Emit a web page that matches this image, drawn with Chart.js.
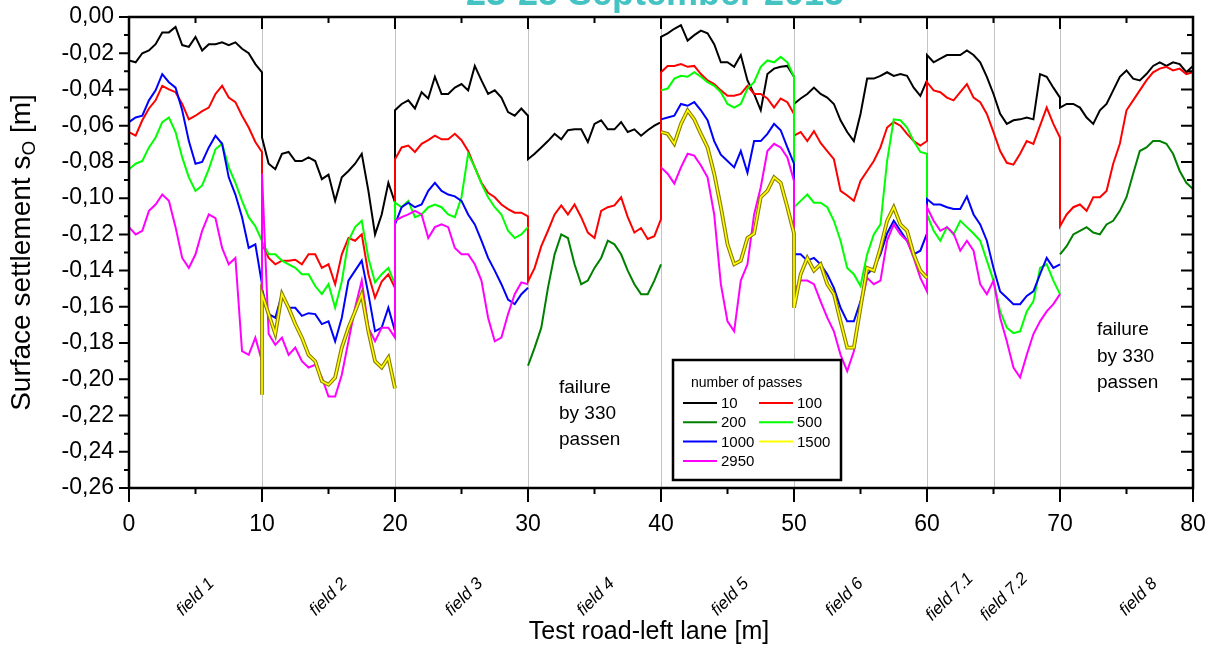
<!DOCTYPE html>
<html><head><meta charset="utf-8">
<script src="https://cdn.jsdelivr.net/npm/chart.js@4.4.1/dist/chart.umd.min.js"></script>
<style>html,body{margin:0;padding:0;background:#fff;}#wrap{width:1213px;height:650px;position:relative;}</style>
</head><body><div id="wrap"><canvas id="c"></canvas></div>
<script>
// ---- data ----
const chartTitle = '23-25 September 2015';
const seriesLabels = ['10','100','200','500','1000','1500','2950'];
const seriesColors = ['#000000','#ff0000','#008000','#00ff00','#0000ff','#ffff00','#ff00ff'];
// 8 blocks of 10 m; each block sampled every 0.5 m from its start to its end (edges repeated -> vertical jumps)
const blockStarts = [0,10,20,30,40,50,60,70];
const xTicks = [0,10,20,30,40,50,60,70,80];
const yTicks = [0,-0.02,-0.04,-0.06,-0.08,-0.10,-0.12,-0.14,-0.16,-0.18,-0.20,-0.22,-0.24,-0.26];
const fieldLines = [10,20,30,40,50,60,65,70];
const fieldNames = ['field 1','field 2','field 3','field 4','field 5','field 6','field 7.1','field 7.2','field 8'];
const fieldPos = [5,15,25.2,35.1,45.2,53.8,61.7,65.8,75.9];
const noteText = ['failure','by 330','passen'];

const s10 = [
 [-0.024,-0.025,-0.020,-0.0185,-0.015,-0.0085,-0.0085,-0.0055,-0.0155,-0.0165,-0.011,-0.0185,-0.015,-0.015,-0.014,-0.0155,-0.014,-0.0175,-0.020,-0.026,-0.0305],
 [-0.0665,-0.081,-0.084,-0.0755,-0.0745,-0.0795,-0.0795,-0.0775,-0.0795,-0.0895,-0.087,-0.1015,-0.0885,-0.085,-0.081,-0.0755,-0.096,-0.120,-0.109,-0.0915,-0.1025],
 [-0.0515,-0.048,-0.046,-0.0505,-0.0415,-0.045,-0.033,-0.0425,-0.0425,-0.039,-0.037,-0.0405,-0.027,-0.035,-0.0425,-0.0405,-0.0445,-0.0525,-0.0545,-0.0505,-0.0545],
 [-0.0785,-0.0755,-0.072,-0.0685,-0.0645,-0.0675,-0.0625,-0.062,-0.062,-0.069,-0.059,-0.057,-0.062,-0.062,-0.058,-0.0635,-0.062,-0.0655,-0.0625,-0.060,-0.058],
 [-0.011,-0.009,-0.0065,-0.0045,-0.013,-0.010,-0.0075,-0.009,-0.015,-0.025,-0.025,-0.0275,-0.021,-0.035,-0.0425,-0.0515,-0.0315,-0.0285,-0.0275,-0.027,-0.033],
 [-0.048,-0.045,-0.0425,-0.039,-0.0425,-0.0445,-0.048,-0.057,-0.0635,-0.0685,-0.0535,-0.034,-0.034,-0.0325,-0.0305,-0.0325,-0.0315,-0.0325,-0.039,-0.0435,-0.035],
 [-0.021,-0.025,-0.023,-0.021,-0.021,-0.021,-0.0185,-0.021,-0.025,-0.033,-0.0425,-0.0535,-0.059,-0.057,-0.0565,-0.0555,-0.0565,-0.0315,-0.033,-0.039,-0.0445],
 [-0.050,-0.048,-0.048,-0.050,-0.0555,-0.059,-0.0515,-0.048,-0.0405,-0.033,-0.0295,-0.034,-0.035,-0.0315,-0.027,-0.025,-0.027,-0.025,-0.026,-0.0305,-0.027]
];
const s100 = [
 [-0.0635,-0.0655,-0.057,-0.0505,-0.046,-0.038,-0.040,-0.0415,-0.048,-0.0565,-0.0545,-0.052,-0.050,-0.0425,-0.038,-0.0445,-0.047,-0.0545,-0.061,-0.069,-0.0745],
 [-0.125,-0.133,-0.1365,-0.1345,-0.1345,-0.134,-0.1365,-0.131,-0.131,-0.1385,-0.1365,-0.1475,-0.131,-0.122,-0.1235,-0.120,-0.142,-0.155,-0.146,-0.142,-0.1495],
 [-0.0785,-0.072,-0.071,-0.0745,-0.070,-0.068,-0.0655,-0.0675,-0.0675,-0.0645,-0.068,-0.074,-0.083,-0.0915,-0.097,-0.0995,-0.1035,-0.106,-0.108,-0.108,-0.110],
 [-0.146,-0.1385,-0.1265,-0.118,-0.109,-0.104,-0.109,-0.1035,-0.1105,-0.119,-0.122,-0.107,-0.105,-0.104,-0.0995,-0.1105,-0.119,-0.1165,-0.1225,-0.121,-0.1115],
 [-0.0305,-0.027,-0.027,-0.026,-0.0275,-0.027,-0.0315,-0.035,-0.037,-0.0405,-0.0435,-0.0435,-0.0425,-0.038,-0.0425,-0.0425,-0.045,-0.050,-0.045,-0.047,-0.0535],
 [-0.0655,-0.0635,-0.0685,-0.063,-0.0695,-0.074,-0.0785,-0.096,-0.0985,-0.1015,-0.0905,-0.085,-0.0795,-0.072,-0.061,-0.058,-0.060,-0.0645,-0.0685,-0.071,-0.0685],
 [-0.036,-0.0405,-0.0415,-0.0445,-0.046,-0.0415,-0.037,-0.0445,-0.047,-0.0535,-0.0635,-0.074,-0.0805,-0.0815,-0.0755,-0.0685,-0.070,-0.060,-0.050,-0.059,-0.0665],
 [-0.1155,-0.109,-0.105,-0.1035,-0.107,-0.0995,-0.0995,-0.096,-0.081,-0.070,-0.0515,-0.046,-0.0405,-0.035,-0.0305,-0.0285,-0.0275,-0.0295,-0.0285,-0.0315,-0.0305]
];
const s200 = [
 null, null, null,
 [-0.1925,-0.1825,-0.1715,-0.1495,-0.131,-0.120,-0.122,-0.1365,-0.1475,-0.1455,-0.1385,-0.133,-0.1235,-0.1255,-0.131,-0.140,-0.1475,-0.153,-0.153,-0.1455,-0.1365],
 null, null, null,
 [-0.131,-0.1265,-0.120,-0.118,-0.116,-0.119,-0.120,-0.1145,-0.1125,-0.107,-0.0995,-0.0865,-0.074,-0.072,-0.0685,-0.0685,-0.070,-0.0755,-0.085,-0.0915,-0.095]
];
const s500 = [
 [-0.084,-0.081,-0.0795,-0.072,-0.0665,-0.058,-0.0555,-0.0635,-0.0775,-0.0885,-0.096,-0.093,-0.084,-0.073,-0.070,-0.083,-0.0915,-0.1015,-0.1105,-0.1155,-0.1235],
 [-0.124,-0.131,-0.131,-0.1345,-0.1365,-0.1385,-0.142,-0.142,-0.1485,-0.153,-0.1475,-0.1605,-0.146,-0.1235,-0.116,-0.1125,-0.133,-0.1465,-0.142,-0.1385,-0.1475],
 [-0.1025,-0.105,-0.1015,-0.1105,-0.109,-0.105,-0.1035,-0.105,-0.109,-0.1105,-0.0995,-0.0755,-0.083,-0.092,-0.0995,-0.105,-0.109,-0.118,-0.122,-0.120,-0.116],
 null,
 [-0.0405,-0.0395,-0.034,-0.0325,-0.033,-0.0305,-0.033,-0.036,-0.038,-0.0415,-0.048,-0.050,-0.048,-0.0395,-0.036,-0.0275,-0.024,-0.025,-0.022,-0.025,-0.033],
 [-0.105,-0.1015,-0.098,-0.1025,-0.1025,-0.105,-0.1125,-0.1235,-0.1385,-0.142,-0.1485,-0.131,-0.120,-0.1145,-0.0795,-0.0565,-0.057,-0.061,-0.0685,-0.0745,-0.0755],
 [-0.109,-0.118,-0.1235,-0.116,-0.120,-0.1125,-0.116,-0.1195,-0.1235,-0.1345,-0.1455,-0.1625,-0.1715,-0.1745,-0.1735,-0.1625,-0.157,-0.1385,-0.1365,-0.1455,-0.153],
 null
];
const s1000 = [
 [-0.058,-0.0555,-0.0545,-0.046,-0.0405,-0.0315,-0.036,-0.039,-0.0515,-0.0685,-0.081,-0.080,-0.072,-0.0655,-0.070,-0.0885,-0.098,-0.1105,-0.1275,-0.1255,-0.1475],
 [-0.150,-0.164,-0.166,-0.153,-0.1605,-0.1605,-0.165,-0.1635,-0.164,-0.1695,-0.168,-0.179,-0.166,-0.1455,-0.140,-0.1345,-0.153,-0.1735,-0.1715,-0.1605,-0.1735],
 [-0.1145,-0.105,-0.1025,-0.105,-0.1035,-0.096,-0.0915,-0.096,-0.098,-0.099,-0.1015,-0.109,-0.1145,-0.1235,-0.133,-0.140,-0.1475,-0.156,-0.1585,-0.153,-0.1495],
 null,
 [-0.0565,-0.0555,-0.0545,-0.048,-0.049,-0.047,-0.0515,-0.057,-0.0685,-0.076,-0.0795,-0.083,-0.074,-0.086,-0.0685,-0.0685,-0.0645,-0.059,-0.0625,-0.072,-0.081],
 [-0.131,-0.131,-0.1345,-0.133,-0.1365,-0.142,-0.1495,-0.1605,-0.168,-0.168,-0.157,-0.142,-0.1385,-0.131,-0.1195,-0.1125,-0.118,-0.1235,-0.131,-0.129,-0.1195],
 [-0.1005,-0.1035,-0.1035,-0.105,-0.106,-0.106,-0.099,-0.109,-0.1145,-0.1235,-0.1385,-0.1515,-0.155,-0.1585,-0.1585,-0.154,-0.1515,-0.142,-0.133,-0.1385,-0.1365],
 null
];
const s1500 = [
 [null,null,null,null,null,null,null,null,null,null,null,null,null,null,null,null,null,null,null,null,-0.2085],
 [-0.153,-0.164,-0.175,-0.153,-0.1605,-0.1695,-0.177,-0.1865,-0.190,-0.201,-0.203,-0.199,-0.1825,-0.1715,-0.1625,-0.153,-0.1735,-0.190,-0.1935,-0.188,-0.205],
 null, null,
 [-0.0635,-0.0645,-0.070,-0.059,-0.0515,-0.0565,-0.0645,-0.072,-0.0865,-0.105,-0.1255,-0.1365,-0.1345,-0.122,-0.1195,-0.0995,-0.096,-0.0885,-0.0915,-0.105,-0.1195],
 [-0.1605,-0.142,-0.133,-0.140,-0.1365,-0.1475,-0.153,-0.168,-0.1825,-0.1825,-0.1605,-0.1385,-0.140,-0.1275,-0.1125,-0.105,-0.1145,-0.118,-0.131,-0.140,-0.144],
 null, null
];
const s2950 = [
 [-0.116,-0.120,-0.118,-0.107,-0.1035,-0.098,-0.1015,-0.116,-0.133,-0.1385,-0.131,-0.118,-0.109,-0.111,-0.1275,-0.1365,-0.133,-0.1845,-0.1865,-0.177,-0.190],
 [-0.0865,-0.175,-0.181,-0.177,-0.1865,-0.1825,-0.190,-0.1935,-0.192,-0.199,-0.2095,-0.2095,-0.1975,-0.179,-0.1605,-0.1455,-0.1715,-0.179,-0.1715,-0.1715,-0.177],
 [-0.1125,-0.1105,-0.109,-0.107,-0.109,-0.122,-0.116,-0.1145,-0.116,-0.1275,-0.131,-0.131,-0.1365,-0.1455,-0.166,-0.179,-0.177,-0.164,-0.153,-0.1465,-0.1475],
 null,
 [-0.083,-0.0865,-0.092,-0.083,-0.0755,-0.0765,-0.082,-0.0885,-0.109,-0.1475,-0.168,-0.1735,-0.1455,-0.1365,-0.109,-0.094,-0.074,-0.070,-0.072,-0.0775,-0.0905],
 [-0.1515,-0.1455,-0.1455,-0.1475,-0.157,-0.166,-0.1735,-0.1865,-0.1955,-0.1845,-0.1605,-0.144,-0.1475,-0.1455,-0.1235,-0.1145,-0.120,-0.1235,-0.133,-0.144,-0.1515],
 [-0.105,-0.1125,-0.118,-0.116,-0.1195,-0.129,-0.1235,-0.129,-0.1475,-0.153,-0.1455,-0.166,-0.179,-0.1935,-0.199,-0.1865,-0.175,-0.168,-0.1625,-0.1585,-0.153],
 null
];
const seriesValues = [s10, s100, s200, s500, s1000, s1500, s2950];

// ---- build ----
const STEP = 0.5, PER_BLOCK = 21;
function toPoints(blocks){
  const pts = [];
  blocks.forEach((blk, b) => {
    for (let i = 0; i < PER_BLOCK; i++) pts.push({x: blockStarts[b] + i*STEP, y: blk ? blk[i] : null});
  });
  return pts;
}
const FONT = '"Liberation Sans", Arial, sans-serif';
const drawOrder = [8,7,6,5,4,1,3];
const datasets = seriesValues.map((v, k) => ({
  label: seriesLabels[k], data: toPoints(v), borderColor: seriesColors[k],
  borderWidth: k === 5 ? 1.6 : 2, pointRadius: 0, tension: 0, spanGaps: false, order: drawOrder[k]
}));
// dark edge under the yellow line
datasets.push({label: '', data: toPoints(s1500), borderColor: '#8a7d00', borderWidth: 3.8, pointRadius: 0, tension: 0, spanGaps: false, order: 2});

function fmt(v){ if (Math.abs(v) < 1e-9) v = 0; return v.toFixed(2).replace('.', ','); }

const deco = {
  id: 'deco',
  beforeDatasetsDraw(chart){
    const {ctx, chartArea: a, scales: {x}} = chart;
    ctx.save(); ctx.strokeStyle = '#c4c4c4'; ctx.lineWidth = 1;
    fieldLines.forEach(v => { const p = Math.round(x.getPixelForValue(v)) + 0.5; ctx.beginPath(); ctx.moveTo(p, a.top); ctx.lineTo(p, a.bottom); ctx.stroke(); });
    ctx.restore();
  },
  afterDraw(chart){
    const {ctx, chartArea: a, scales: {x, y}} = chart;
    ctx.save();
    // frame
    ctx.strokeStyle = '#000'; ctx.lineWidth = 2.5;
    ctx.strokeRect(a.left, a.top, a.right - a.left, a.bottom - a.top);
    ctx.lineWidth = 2;
    // y ticks
    for (let i = 0; i < yTicks.length; i++){
      const p = y.getPixelForValue(yTicks[i]);
      ctx.beginPath(); ctx.moveTo(a.left - 10, p); ctx.lineTo(a.left, p); ctx.moveTo(a.right - 12, p); ctx.lineTo(a.right, p); ctx.stroke();
      if (i < yTicks.length - 1){
        const m = y.getPixelForValue((yTicks[i] + yTicks[i+1]) / 2);
        ctx.beginPath(); ctx.moveTo(a.left - 5, m); ctx.lineTo(a.left, m); ctx.moveTo(a.right - 6, m); ctx.lineTo(a.right, m); ctx.stroke();
      }
    }
    // x ticks
    for (let i = 0; i < xTicks.length; i++){
      const p = x.getPixelForValue(xTicks[i]);
      ctx.beginPath(); ctx.moveTo(p, a.bottom); ctx.lineTo(p, a.bottom + 14); ctx.moveTo(p, a.top); ctx.lineTo(p, a.top + 12); ctx.stroke();
      if (i < xTicks.length - 1){
        const m = x.getPixelForValue((xTicks[i] + xTicks[i+1]) / 2);
        ctx.beginPath(); ctx.moveTo(m, a.bottom); ctx.lineTo(m, a.bottom + 6); ctx.moveTo(m, a.top); ctx.lineTo(m, a.top + 6); ctx.stroke();
      }
    }
    // title (clipped at the top edge)
    ctx.fillStyle = '#45c3c3'; ctx.font = 'bold 36px ' + FONT; ctx.textAlign = 'center'; ctx.textBaseline = 'alphabetic';
    ctx.fillText(chartTitle, 655, 5);
    // axis titles
    ctx.fillStyle = '#000'; ctx.font = '25px ' + FONT; ctx.textAlign = 'center'; ctx.textBaseline = 'middle';
    ctx.fillText('Test road-left lane [m]', 649, 632);
    ctx.save();
    ctx.translate(21, (a.top + a.bottom) / 2); ctx.rotate(-Math.PI / 2);
    const p1 = 'Surface settlement s', p2 = 'O', p3 = ' [m]';
    ctx.font = '28px ' + FONT; const w1 = ctx.measureText(p1).width, w3 = ctx.measureText(p3).width;
    ctx.font = '19px ' + FONT; const w2 = ctx.measureText(p2).width;
    let sx = -(w1 + w2 + w3) / 2;
    ctx.textAlign = 'left'; ctx.textBaseline = 'alphabetic';
    ctx.font = '28px ' + FONT; ctx.fillText(p1, sx, 9); sx += w1;
    ctx.font = '19px ' + FONT; ctx.fillText(p2, sx, 14); sx += w2;
    ctx.font = '28px ' + FONT; ctx.fillText(p3, sx, 9);
    ctx.restore();
    // field labels
    ctx.font = 'italic 17px ' + FONT; ctx.textAlign = 'center'; ctx.textBaseline = 'middle';
    fieldNames.forEach((t, i) => {
      ctx.save(); ctx.translate(x.getPixelForValue(fieldPos[i]), 597); ctx.rotate(-Math.PI / 4); ctx.fillText(t, 0, 0); ctx.restore();
    });
    // notes
    ctx.font = '19px ' + FONT; ctx.textAlign = 'left'; ctx.textBaseline = 'middle';
    noteText.forEach((t, i) => ctx.fillText(t, 559, 388 + i * 26));
    noteText.forEach((t, i) => ctx.fillText(t, 1097, 330 + i * 26.5));
    // legend
    const L = 673, T = 360, W = 168, H = 120;
    ctx.fillStyle = '#fff'; ctx.fillRect(L, T, W, H);
    ctx.strokeStyle = '#000'; ctx.lineWidth = 2.5; ctx.strokeRect(L, T, W, H);
    ctx.fillStyle = '#000'; ctx.font = '14px ' + FONT; ctx.fillText('number of passes', 691, 383);
    ctx.font = '15px ' + FONT; ctx.lineWidth = 2;
    seriesLabels.forEach((lab, k) => {
      const col = k % 2, row = Math.floor(k / 2);
      const lx = col ? 759 : 683, ty = 403 + row * 19.3;
      ctx.strokeStyle = seriesColors[k]; ctx.beginPath(); ctx.moveTo(lx, ty); ctx.lineTo(lx + 34, ty); ctx.stroke();
      ctx.fillStyle = '#000'; ctx.fillText(lab, lx + 38, ty + 1);
    });
    ctx.restore();
  }
};

new Chart(document.getElementById('c'), {
  type: 'line',
  data: {datasets},
  options: {
    responsive: true, maintainAspectRatio: false, animation: false,
    layout: {padding: {top: 17, right: 20, left: 0, bottom: 0}},
    plugins: {legend: {display: false}, tooltip: {enabled: false}, title: {display: false}},
    scales: {
      x: {type: 'linear', min: 0, max: 80,
          afterBuildTicks: s => { s.ticks = xTicks.map(v => ({value: v})); },
          afterFit: s => { s.height = 162; s.paddingLeft = 0; s.paddingRight = 0; },
          grid: {display: false, drawTicks: false}, border: {display: false},
          ticks: {padding: 23, maxRotation: 0, autoSkip: false, color: '#000', font: {family: FONT, size: 23}}},
      y: {type: 'linear', min: -0.26, max: 0,
          afterBuildTicks: s => { s.ticks = yTicks.map(v => ({value: v})); },
          afterFit: s => { s.width = 129; s.paddingTop = 0; s.paddingBottom = 0; },
          grid: {display: false, drawTicks: false}, border: {display: false},
          ticks: {padding: 15, color: '#000', font: {family: FONT, size: 23}, callback: v => fmt(v)}}
    }
  },
  plugins: [deco]
});
</script></body></html>
